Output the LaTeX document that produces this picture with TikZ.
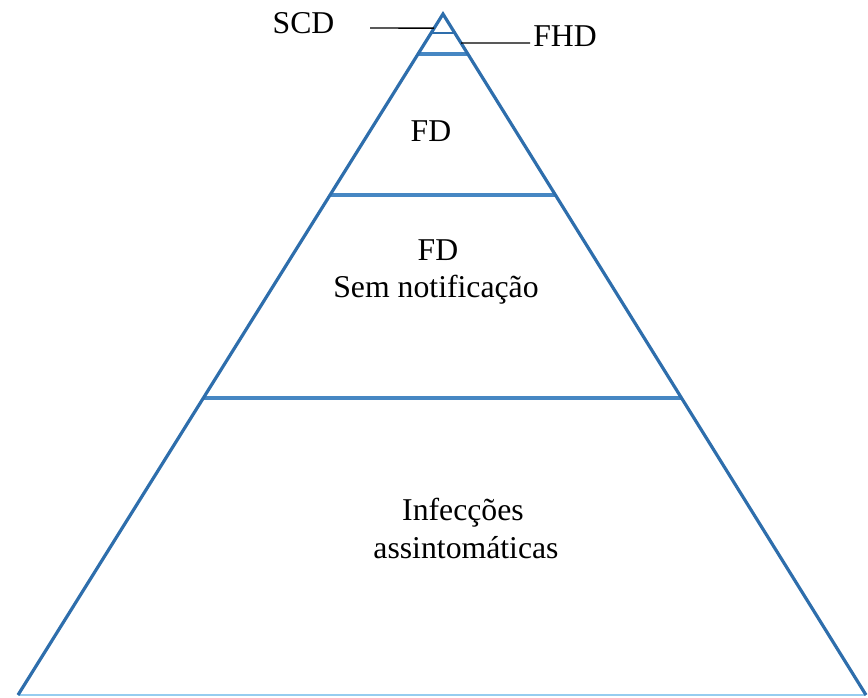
\documentclass[tikz,border=0pt]{standalone}
\usepackage{fontspec}
\setmainfont{Liberation Serif}
\usetikzlibrary{calc}
\definecolor{edgeblue}{RGB}{46,110,172}
\definecolor{barblue}{RGB}{70,135,195}
\definecolor{baseblue}{RGB}{150,205,240}
\begin{document}
\begin{tikzpicture}[x=0.75pt,y=-0.75pt,
  edge/.style={draw=edgeblue,line width=2.4pt,line join=miter},
  bar/.style={draw=barblue,line width=2.6pt},
  thinbar/.style={draw=edgeblue,line width=2pt},
  baseline/.style={draw=baseblue,line width=1.6pt},
  leader/.style={draw=black,line width=1.1pt},
  lbl/.style={font=\fontsize{23.8}{28}\selectfont,inner sep=0pt,anchor=base}]
\useasboundingbox (0,0) rectangle (868,697);
\coordinate (apex) at (443,14);
\coordinate (bl) at (18,695);
\coordinate (br) at (866,695);
% bars
\draw[thinbar] ($(apex)!0.0279!(bl)$) -- ($(apex)!0.0279!(br)$);
\draw[bar] ($(apex)!0.0587!(bl)$) -- ($(apex)!0.0587!(br)$);
\draw[bar] ($(apex)!0.2658!(bl)$) -- ($(apex)!0.2658!(br)$);
\draw[bar] ($(apex)!0.5639!(bl)$) -- ($(apex)!0.5639!(br)$);
\draw[baseline] (bl) -- (br);
\draw[edge] (bl) -- (apex) -- (br);
% labels
\node[lbl] (scd) at (303.5,33) {SCD};
\node[lbl,anchor=base west] (fhd) at (533,46) {FHD};
\coordinate (scdL) at (370,28);
\coordinate (fhdR) at (530,43);
\draw[leader] (scdL) -- ($(apex)!0.0206!(bl)$);
\draw[leader] ($(apex)!0.0426!(br)$) -- (fhdR);
\node[lbl] (fd1) at (431,141) {FD};
\node[lbl] (fd2) at (438,260) {FD};
\node[lbl] (sem) at (436,297) {Sem notificação};
\node[lbl] (inf) at (463,520) {Infecções};
\node[lbl] (ass) at (466,558) {assintomáticas};
\end{tikzpicture}
\end{document}
